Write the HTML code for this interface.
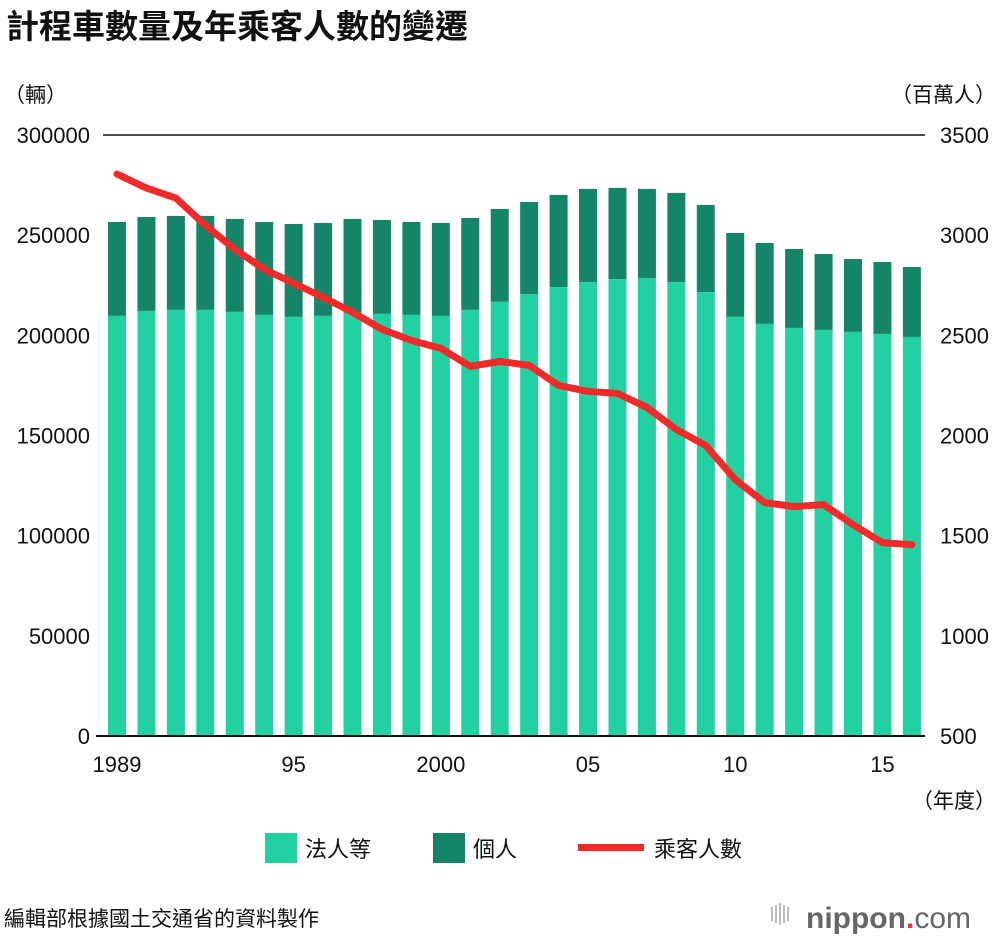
<!DOCTYPE html>
<html><head><meta charset="utf-8"><style>
body{margin:0;background:#fff;width:1000px;height:940px;overflow:hidden;font-family:"Liberation Sans","Noto Sans CJK TC",sans-serif}
</style></head><body>
<svg width="1000" height="940" xmlns="http://www.w3.org/2000/svg" font-family="Liberation Sans, Noto Sans CJK TC, sans-serif">
<text x="6" y="38" font-size="33" font-weight="bold" fill="#111">計程車數量及年乘客人數的變遷</text>
<text x="4" y="102" font-size="21" fill="#111">（輛）</text>
<text x="996" y="102" font-size="21" fill="#111" text-anchor="end">（百萬人）</text>
<text x="996" y="808" font-size="21" fill="#111" text-anchor="end">（年度）</text>
<g id="plot"></g>
<g>
<rect x="265" y="833" width="32" height="30" fill="#22d1a1"/>
<text x="305" y="857" font-size="22" fill="#111">法人等</text>
<rect x="433" y="833" width="32" height="30" fill="#148566"/>
<text x="473" y="857" font-size="22" fill="#111">個人</text>
<rect x="578" y="844" width="66" height="7" fill="#f22a2a"/>
<text x="654" y="857" font-size="22" fill="#111">乘客人數</text>
</g>
<text x="4" y="926" font-size="21" fill="#111">編輯部根據國土交通省的資料製作</text>
<g>
<g fill="#bbb"><rect x="771" y="907" width="2" height="14"/><rect x="775" y="905" width="2" height="18"/><rect x="779" y="903" width="2" height="22"/><rect x="783" y="905" width="2" height="18"/><rect x="787" y="907" width="2" height="14"/></g>
<text x="806" y="928" font-size="30" font-weight="bold" fill="#666">nippon<tspan fill="#e33">.</tspan><tspan font-weight="normal">com</tspan></text>
</g>
</svg>
<script>
const years=[1989,1990,1991,1992,1993,1994,1995,1996,1997,1998,1999,2000,2001,2002,2003,2004,2005,2006,2007,2008,2009,2010,2011,2012,2013,2014,2015,2016];
const corporate=[209700,212200,212700,212700,211700,210200,209200,209700,211200,210700,210200,209700,212700,216700,220600,224100,226600,228100,228600,226600,221600,209200,205700,203700,202700,201700,200700,199200];
const total=[256600,259100,259600,259600,258100,256600,255600,256100,258100,257600,256600,256100,258600,263100,266600,270100,273100,273600,273100,271100,265100,251100,246100,243100,240600,238100,236600,234100];
const passengers=[3305,3235,3185,3050,2930,2830,2760,2690,2615,2530,2475,2435,2345,2370,2350,2250,2220,2210,2140,2030,1950,1780,1665,1645,1655,1555,1465,1455];
const leftTicks=[0,50000,100000,150000,200000,250000,300000];
const rightTicks=[500,1000,1500,2000,2500,3000,3500];
const xLabels=["1989","95","2000","05","10","15"];
const xLabelYears=[1989,1995,2000,2005,2010,2015];
const NS="http://www.w3.org/2000/svg";
const plotG=document.getElementById('plot');
const y0=736,y1=135;
const yL=v=>y0-(v/300000)*(y0-y1);
const yR=v=>y0-((v-500)/3000)*(y0-y1);
const xS=yr=>117+(yr-1989)*29.44;
const bw=18;
function mk(t,a){const e=document.createElementNS(NS,t);for(const k in a)e.setAttribute(k,a[k]);plotG.appendChild(e);return e;}
years.forEach((yr,i)=>{
 const x=xS(yr)-bw/2;
 const b1=mk('rect',{x:x,y:yL(total[i]),width:bw,height:yL(corporate[i])-yL(total[i]),fill:'#148566'});
 
 
 const b2=mk('rect',{x:x,y:yL(corporate[i]),width:bw,height:y0-yL(corporate[i]),fill:'#22d1a1'});
 
 
});
const topLine=mk('line',{x1:103,x2:925,y1:y1,y2:y1,stroke:'#111','stroke-width':1.5});


const baseLine=mk('line',{x1:96,x2:925,y1:y0,y2:y0,stroke:'#111','stroke-width':2});


leftTicks.forEach(v=>{const t=mk('text',{x:90,y:yL(v)+8,'font-size':22,'text-anchor':'end',fill:'#111'});t.textContent=v;
 
 });
rightTicks.forEach(v=>{const t=mk('text',{x:940,y:yR(v)+8,'font-size':22,fill:'#111'});t.textContent=v;
 
 });
xLabels.forEach((l,i)=>{const t=mk('text',{x:xS(xLabelYears[i]),y:772,'font-size':22,'text-anchor':'middle',fill:'#111'});t.textContent=l;
 
 });
const pts=years.map((yr,i)=>xS(yr)+','+yR(passengers[i])).join(' ');
const pl=mk('polyline',{points:pts,fill:'none',stroke:'#f22a2a','stroke-width':7,'stroke-linejoin':'round','stroke-linecap':'round'});


</script>
</body></html>
